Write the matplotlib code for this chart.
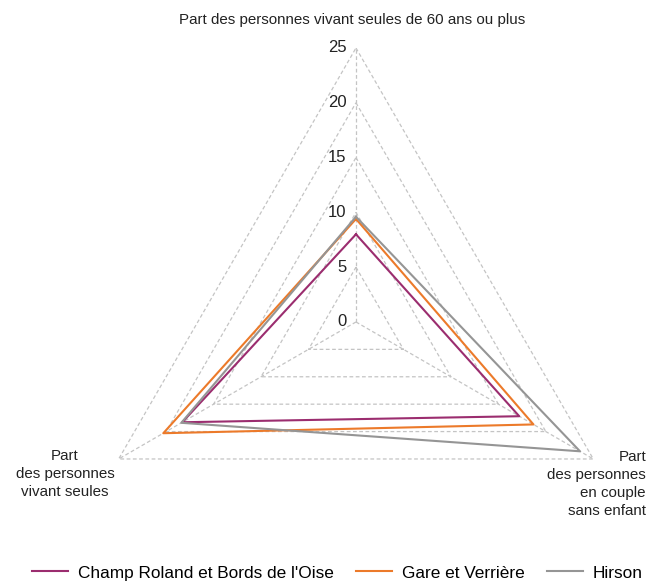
import numpy as np
import matplotlib
matplotlib.use('Agg')
import matplotlib.pyplot as plt
from matplotlib.transforms import offset_copy

plt.rcParams['font.family'] = ['Liberation Sans', 'DejaVu Sans']

# Data
axes_labels = ["Part des personnes vivant seules de 60 ans ou plus",
               "Part\ndes personnes\nen couple\nsans enfant",
               "Part\ndes personnes\nvivant seules"]
champ_roland = [8.0, 17.2, 18.3]
gare_verriere = [9.4, 18.7, 20.3]
hirson = [9.6, 23.6, 18.4]
series_names = ["Champ Roland et Bords de l'Oise", "Gare et Verrière", "Hirson"]
colors = ["#9b2d6f", "#ec7a2a", "#959595"]
levels = [5, 10, 15, 20, 25]
tick_labels = ["0", "5", "10", "15", "20", "25"]

fig = plt.figure(figsize=(6.48, 5.87), dpi=100)
ax = fig.add_axes([0.1265, -0.0153, 0.8457, 0.9336], projection='polar')
ax.set_theta_zero_location('N')
ax.set_theta_direction(-1)
ax.set_ylim(0, 25)
ax.grid(False)
ax.spines['polar'].set_visible(False)
ax.set_xticks([])
ax.set_yticks([])
ax.patch.set_alpha(0)

n = len(axes_labels)
angles = np.linspace(0, 2 * np.pi, n, endpoint=False)
closed = np.append(angles, angles[0])

grid_kw = dict(color='#c4c4c4', lw=0.9, ls=(0, (3, 2)), zorder=1)
for lv in levels:
    ax.plot(closed, [lv] * (n + 1), **grid_kw)
for a in angles:
    ax.plot([a, a], [0, 25], **grid_kw)

handles = []
for vals, name, c in zip([champ_roland, gare_verriere, hirson], series_names, colors):
    h, = ax.plot(closed, vals + vals[:1], color=c, lw=1.5, label=name, zorder=3)
    handles.append(h)

# radial tick labels left of the top spoke
tr = offset_copy(ax.transData, fig=fig, x=-7, y=0, units='points')
for lv, txt in zip([0] + levels, tick_labels):
    ax.text(0, lv, txt, transform=tr, ha='right', va='center', fontsize=12, color='#222222')

fs = 10.9
fig.text(352 / 648, 1 - 20 / 587, axes_labels[0], ha='center', va='center', fontsize=fs, color='#222222')
fig.text(65 / 648, 1 - 474 / 587, axes_labels[2], ha='center', va='center', fontsize=fs,
         linespacing=1.38, color='#222222')
fig.text(646 / 648, 1 - 484 / 587, axes_labels[1], ha='right', va='center', fontsize=fs,
         linespacing=1.38, multialignment='right', color='#222222')

fig.legend(handles=handles, loc='center left', bbox_to_anchor=(32 / 648, 1 - 573 / 587),
           ncol=3, frameon=False, fontsize=12.4, handlelength=2.1, handletextpad=0.55,
           columnspacing=1.3, borderpad=0, borderaxespad=0)

fig.savefig('out.png', dpi=100)
